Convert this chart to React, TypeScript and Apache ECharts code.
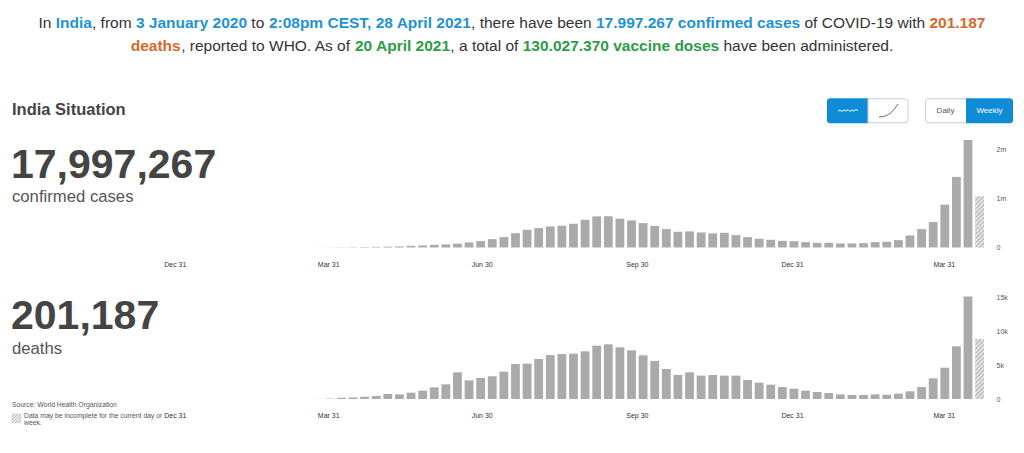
import React, { useEffect, useRef } from 'react';
import * as echarts from 'echarts';

// Weekly bars, first week starts Sunday 29 Dec 2019 (day -2 counted from 31 Dec 2019)
const FIRST_WEEK_DAY = -2;
const weeklyCases = [
  0, 0, 0, 0, 1, 2, 0, 0, 0, 36, 60, 250,
  700, 2500, 4000, 6000, 9000, 12000, 17000, 22000, 34000, 42000, 55000, 63000,
  78000, 102000, 130000, 170000, 212000, 292000, 360000, 394000, 428000, 442000,
  483000, 564000, 632000, 635000, 585000, 551000, 496000, 438000,
  374000, 320000, 327000, 306000, 286000, 299000, 252000, 211000, 177000, 156000,
  136000, 129000, 109000, 95000, 95000, 82000, 82000, 88000, 109000, 116000,
  150000, 245000, 374000, 517000, 871000, 1435000, 2184000, 1041000,
];
const weeklyDeaths = [
  0, 0, 0, 0, 0, 0, 0, 0, 0, 0, 0, 3,
  20, 60, 180, 230, 330, 450, 740, 690, 940, 1240, 1730, 2180,
  3960, 2770, 3120, 3370, 4060, 5200, 5250, 5940, 6530, 6680,
  6730, 7080, 7920, 8120, 7670, 7230, 6490, 5660,
  4460, 3560, 3960, 3470, 3560, 3470, 3470, 2820, 2430, 2130,
  1780, 1530, 1240, 1040, 890, 690, 590, 590, 690, 640,
  790, 1140, 1780, 3070, 4650, 7820, 15200, 8910,
];
// x tick labels (days after 31 Dec 2019)
const tickDays = [0, 91, 182, 274, 366, 456];
const tickLabels = ['Dec 31', 'Mar 31', 'Jun 30', 'Sep 30', 'Dec 31', 'Mar 31'];

const FONT = '"Liberation Sans", Arial, sans-serif';
const BAR = '#aaaaaa';
const BLUE = '#108cd6';

function weekData(values: number[]) {
  return values.map((v, i) => {
    const d = FIRST_WEEK_DAY + 7 * i;
    if (i === values.length - 1) {
      return {
        value: [d, v],
        itemStyle: {
          color: '#e4e4e4',
          decal: {
            symbol: 'rect',
            symbolSize: 1,
            dashArrayX: [1, 0],
            dashArrayY: [1, 2],
            rotation: -Math.PI / 4,
            color: '#b0b0b0',
          },
        },
      };
    }
    return [d, v];
  });
}

function yFmt(v: number) {
  if (v === 0) return '0';
  if (v >= 1e6) return v / 1e6 + 'm';
  return v / 1000 + 'k';
}

export default function App() {
  const ref = useRef<HTMLDivElement>(null);
  useEffect(() => {
    if (!ref.current) return;
    const chart = echarts.init(ref.current, undefined, { renderer: 'svg' });
    const rich = (c: string, bold: boolean) => ({
      color: c,
      fontWeight: bold ? 'bold' : 'normal',
      fontSize: 15.5,
      fontFamily: FONT,
      lineHeight: 20,
    });
    const richAll = {
      n: rich('#333333', false),
      b: rich('#1f93d2', true),
      o: rich('#d5692c', true),
      g: rich('#2c9c46', true),
    };
    const line1 =
      '{n|In }{b|India}{n|, from }{b|3 January 2020}{n| to }{b|2:08pm CEST, 28 April 2021}{n|, there have been }{b|17.997.267 confirmed cases}{n| of COVID-19 with }{o|201.187}';
    const line2 =
      '{o|deaths}{n|, reported to WHO. As of }{g|20 April 2021}{n|, a total of }{g|130.027.370 vaccine doses}{n| have been administered.}';

    const barAxis = (gridIndex: number) => ({
      type: 'value',
      gridIndex,
      min: -20.51,
      max: 488.18,
      show: false,
    });
    const labelAxis = (gridIndex: number) => ({
      type: 'value',
      gridIndex,
      min: -16,
      max: 484,
      position: 'bottom',
      axisLine: { show: false },
      axisTick: { show: false },
      splitLine: { show: false },
      axisLabel: {
        customValues: tickDays,
        formatter: (v: number) => {
          const i = tickDays.indexOf(Math.round(v));
          return i >= 0 ? tickLabels[i] : '';
        },
        fontSize: 7,
        color: '#333',
        fontFamily: FONT,
        margin: 13,
      },
    });
    const yAxis = (gridIndex: number, max: number, interval: number) => ({
      type: 'value',
      gridIndex,
      min: 0,
      max,
      interval,
      position: 'right',
      axisLine: { show: false },
      axisTick: { show: false },
      splitLine: { show: false },
      axisLabel: {
        formatter: yFmt,
        fontSize: 7,
        color: '#555',
        fontFamily: FONT,
        margin: 5,
        showMaxLabel: false,
      },
    });

    const hatchLines: any[] = [];
    [3, 6, 9, 12, 15].forEach((s) => {
      const p1 = s <= 9 ? [0, s] : [s - 9, 9];
      const p2 = s <= 9 ? [s, 0] : [9, s - 9];
      hatchLines.push({
        type: 'line',
        shape: { x1: 12 + p1[0], y1: 414 + p1[1], x2: 12 + p2[0], y2: 414 + p2[1] },
        style: { stroke: '#b5b5b5', lineWidth: 1 },
      });
    });

    const txt = (text: string, x: number, y: number, size: number, color: string, bold = false, align = 'left') => ({
      type: 'text',
      x,
      y,
      style: {
        text,
        fill: color,
        fontSize: size,
        fontWeight: bold ? 'bold' : 'normal',
        fontFamily: FONT,
        textAlign: align,
        textVerticalAlign: 'middle',
      },
    });

    chart.setOption({
      animation: false,
      backgroundColor: '#ffffff',
      title: [
        { text: line1, left: 'center', top: 12, padding: 0, textStyle: { rich: richAll } },
        { text: line2, left: 'center', top: 35, padding: 0, textStyle: { rich: richAll } },
      ],
      grid: [
        { left: 148.3, width: 843.2, top: 139.26, height: 108.24 },
        { left: 148.3, width: 843.2, top: 294.6, height: 104.4 },
      ],
      xAxis: [barAxis(0), labelAxis(0), barAxis(1), labelAxis(1)],
      yAxis: [yAxis(0, 2200000, 1000000), yAxis(1, 15500, 5000)],
      series: [
        {
          type: 'bar',
          xAxisIndex: 0,
          yAxisIndex: 0,
          barWidth: 8.8,
          itemStyle: { color: BAR },
          data: weekData(weeklyCases),
        },
        {
          type: 'bar',
          xAxisIndex: 2,
          yAxisIndex: 1,
          barWidth: 8.8,
          itemStyle: { color: BAR },
          data: weekData(weeklyDeaths),
        },
      ],
      graphic: [
        txt('India Situation', 12, 108.5, 16.5, '#444', true),
        txt('17,997,267', 11, 163.8, 41, '#444', true),
        txt('confirmed cases', 12, 196, 16.7, '#555'),
        txt('201,187', 11, 314.8, 41, '#444', true),
        txt('deaths', 12, 348.3, 16.7, '#555'),
        txt('Source: World Health Organization', 12, 404, 6.8, '#555'),
        txt('Data may be incomplete for the current day or', 24, 415, 6.8, '#555'),
        txt('week.', 24, 422.5, 6.8, '#555'),
        {
          type: 'rect',
          shape: { x: 12, y: 414, width: 9, height: 9 },
          style: { fill: '#eeeeee', stroke: '#d0d0d0', lineWidth: 0.5 },
        },
        ...hatchLines,
        // view toggles
        {
          type: 'rect',
          shape: { x: 827, y: 98.3, width: 41, height: 25, r: [3, 0, 0, 3] },
          style: { fill: BLUE },
        },
        {
          type: 'rect',
          shape: { x: 868, y: 98.8, width: 40, height: 24, r: [0, 3, 3, 0] },
          style: { fill: '#fff', stroke: '#cfcfcf', lineWidth: 1 },
        },
        {
          type: 'polyline',
          shape: {
            points: [
              [838, 111], [840, 110], [842, 111.5], [844, 110], [846, 111], [848, 109.5],
              [850, 111.5], [852, 110], [854, 111], [856, 109.5], [858, 110.5],
            ],
          },
          style: { stroke: '#ffffff', lineWidth: 1, fill: null },
        },
        {
          type: 'bezierCurve',
          shape: { x1: 879, y1: 117, cpx1: 889, cpy1: 117, cpx2: 894, cpy2: 110, x2: 898, y2: 104 },
          style: { stroke: '#666', lineWidth: 1, fill: null },
        },
        {
          type: 'rect',
          shape: { x: 925.5, y: 98.8, width: 41, height: 24, r: [3, 0, 0, 3] },
          style: { fill: '#fff', stroke: '#cfcfcf', lineWidth: 1 },
        },
        {
          type: 'rect',
          shape: { x: 966, y: 98.3, width: 47, height: 25, r: [0, 3, 3, 0] },
          style: { fill: BLUE },
        },
        txt('Daily', 945.5, 110.8, 8, '#555', false, 'center'),
        txt('Weekly', 989.5, 110.8, 8, '#ffffff', false, 'center'),
      ],
    });
    return () => chart.dispose();
  }, []);
  return (
    <div
      ref={ref}
      style={{ position: 'fixed', left: 0, top: 0, width: 1024, height: 453, background: '#fff' }}
    />
  );
}
